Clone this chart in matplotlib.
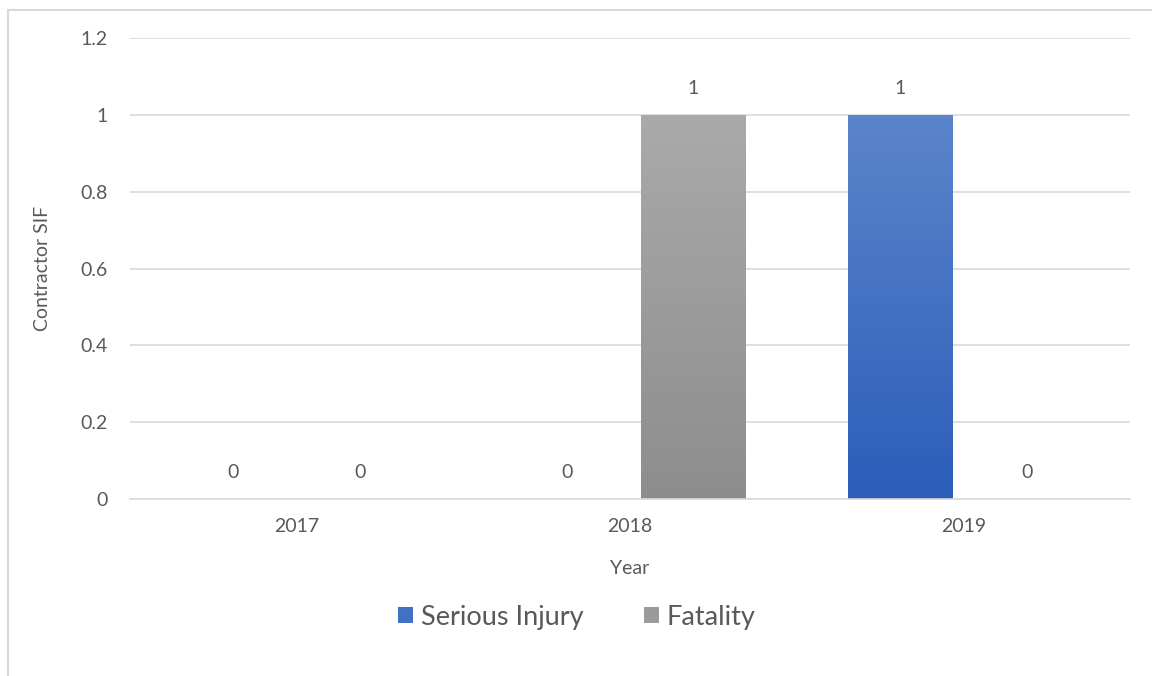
import matplotlib.pyplot as plt
import numpy as np
from matplotlib.patches import Patch
from matplotlib.lines import Line2D

years = ["2017", "2018", "2019"]
serious_injury = [0, 0, 1]
fatality = [0, 1, 0]

TEXT = "#595959"
GRID = "#D9D9D9"
plt.rcParams['font.family'] = ['Lato', 'DejaVu Sans']


def gradient_bars(ax, bars, top_color, bottom_color):
    """Fill each bar with a vertical gradient, clipped to the bar shape."""
    top = np.array(plt.matplotlib.colors.to_rgb(top_color))
    bottom = np.array(plt.matplotlib.colors.to_rgb(bottom_color))
    t = np.linspace(0, 1, 256)[:, None]
    grad = (bottom * (1 - t) + top * t)[:, None, :]
    for bar in bars:
        h = bar.get_height()
        if h <= 0:
            continue
        x0 = bar.get_x()
        w = bar.get_width()
        bar.set_facecolor("none")
        im = ax.imshow(grad, extent=[x0, x0 + w, 0, h], origin="lower",
                       aspect="auto", zorder=3)
        im.set_clip_path(bar)


fig = plt.figure(figsize=(11.52, 6.76), dpi=100)
ax = fig.add_axes([130 / 1152, 177 / 676, 1000 / 1152, 461 / 676])

x = np.arange(len(years))
offset = 0.19
width = 0.315
b1 = ax.bar(x - offset, serious_injury, width, color="#4472C4", zorder=3, linewidth=0)
b2 = ax.bar(x + offset, fatality, width, color="#A5A5A5", zorder=3, linewidth=0)
gradient_bars(ax, b1, "#5B85CB", "#2C5DB9")
gradient_bars(ax, b2, "#AAAAAA", "#8D8D8D")

for bars, vals in ((b1, serious_injury), (b2, fatality)):
    for bar, v in zip(bars, vals):
        ax.annotate(f"{v}", (bar.get_x() + bar.get_width() / 2, v),
                    xytext=(0, 13), textcoords="offset points",
                    ha="center", va="bottom", fontsize=14, color=TEXT)

ax.set_xlim(-0.5, 2.5)
ax.set_ylim(0, 1.2)
ax.set_yticks(np.arange(0, 1.21, 0.2))
ax.set_yticklabels(["0", "0.2", "0.4", "0.6", "0.8", "1", "1.2"])
ax.set_xticks(x)
ax.set_xticklabels(years)
ax.tick_params(axis="both", length=0, labelsize=14, colors=TEXT)
ax.tick_params(axis="y", pad=16)
ax.tick_params(axis="x", pad=14)
ax.grid(axis="y", color=GRID, linewidth=1.2, zorder=0)
for side in ("top", "right", "left"):
    ax.spines[side].set_visible(False)
ax.spines["bottom"].set_color(GRID)
ax.spines["bottom"].set_linewidth(1.2)
ax.spines["bottom"].set_zorder(4)

ax.set_xlabel("Year", fontsize=14, color=TEXT, labelpad=18)
ax.set_ylabel("Contractor SIF", fontsize=14, color=TEXT, labelpad=21)

handles = [Patch(facecolor="#4270C2", edgecolor="none"),
           Patch(facecolor="#9B9B9B", edgecolor="none")]
fig.legend(handles, ["Serious Injury", "Fatality"], loc="center",
           bbox_to_anchor=(577 / 1152, 1 - 617 / 676), ncol=2, frameon=False,
           fontsize=19.5, labelcolor=TEXT, handlelength=0.55, handleheight=0.55,
           handletextpad=0.3, columnspacing=2.2)

# outer chart frame
fig.add_artist(Line2D([7.5 / 1152, 7.5 / 1152], [0, 1 - 10 / 676],
                      color=GRID, linewidth=1.5))
fig.add_artist(Line2D([7.5 / 1152, 1], [1 - 10 / 676, 1 - 10 / 676],
                      color=GRID, linewidth=1.5))

fig.savefig("out.png", dpi=100, facecolor="white")
